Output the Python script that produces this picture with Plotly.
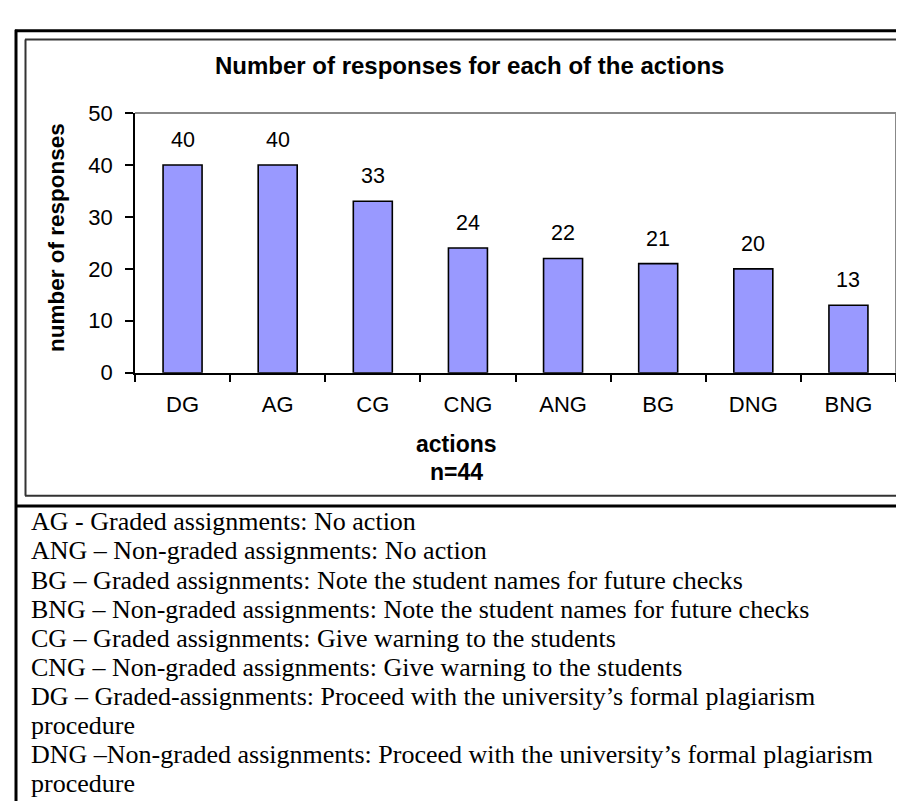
import plotly.graph_objects as go

# ---- data ----
categories = ["DG", "AG", "CG", "CNG", "ANG", "BG", "DNG", "BNG"]
responses = [40, 40, 33, 24, 22, 21, 20, 13]
y_ticks = [0, 10, 20, 30, 40, 50]
chart_title = "Number of responses for each of the actions"
x_title = "actions"
n_note = "n=44"
y_title = "number of responses"
legend_lines = [
    "AG - Graded assignments: No action",
    "ANG \u2013 Non-graded assignments: No action",
    "BG \u2013 Graded assignments: Note the student names for future checks",
    "BNG \u2013 Non-graded assignments: Note the student names for future checks",
    "CG \u2013 Graded assignments: Give warning to the students",
    "CNG \u2013 Non-graded assignments: Give warning to the students",
    "DG \u2013 Graded-assignments: Proceed with the university\u2019s formal plagiarism",
    "procedure",
    "DNG \u2013Non-graded assignments: Proceed with the university\u2019s formal plagiarism",
    "procedure",
]

W, H = 904, 805


def px(x):
    return x / W


def py(y):
    return 1 - y / H


SANS = "Liberation Sans, Arial, sans-serif"
SERIF = "Liberation Serif, Times New Roman, serif"

fig = go.Figure()
fig.add_trace(go.Bar(
    x=categories, y=responses,
    marker=dict(color="#9999FF", line=dict(color="black", width=1.6)),
    hoverinfo="x+y",
))

annotations = []
# value labels
for c, v in zip(categories, responses):
    annotations.append(dict(x=c, y=v, xref="x", yref="y", text=str(v), showarrow=False,
                            yanchor="middle", yshift=25,
                            font=dict(family=SANS, size=21.5, color="black")))
# title
annotations.append(dict(x=px(461), y=py(47), xref="paper", yref="paper", text="<b>" + chart_title + "</b>",
                        showarrow=False, xanchor="center", yanchor="middle",
                        font=dict(family=SANS, size=24, color="black")))
# axis titles
annotations.append(dict(x=px(448), y=py(438), xref="paper", yref="paper", text="<b>" + x_title + "</b>",
                        showarrow=False, xanchor="center", yanchor="middle",
                        font=dict(family=SANS, size=23, color="black")))
annotations.append(dict(x=px(448), y=py(467), xref="paper", yref="paper", text="<b>" + n_note + "</b>",
                        showarrow=False, xanchor="center", yanchor="middle",
                        font=dict(family=SANS, size=23, color="black")))
annotations.append(dict(x=px(48), y=py(225), xref="paper", yref="paper", text="<b>" + y_title + "</b>",
                        showarrow=False, xanchor="center", yanchor="middle", textangle=-90,
                        font=dict(family=SANS, size=22.5, color="black")))
# legend text lines
for i, line in enumerate(legend_lines):
    base = 527 + 30 * i
    annotations.append(dict(x=px(21), y=py(base - 9), xref="paper", yref="paper", text=line,
                            showarrow=False, xanchor="left", yanchor="middle",
                            font=dict(family=SERIF, size=26, color="black")))

shapes = [
    # outer frame (black, thick)
    dict(type="line", xref="paper", yref="paper", x0=px(8), x1=px(8), y0=py(10), y1=py(806),
         line=dict(color="black", width=3)),
    dict(type="line", xref="paper", yref="paper", x0=px(7), x1=1.02, y0=py(11), y1=py(11),
         line=dict(color="black", width=3)),
    dict(type="line", xref="paper", yref="paper", x0=px(7), x1=1.02, y0=py(501.5), y1=py(501.5),
         line=dict(color="black", width=3)),
    # chart area border (dark gray)
    dict(type="line", xref="paper", yref="paper", x0=px(17.5), x1=px(17.5), y0=py(20), y1=py(491),
         line=dict(color="#333333", width=2)),
    dict(type="line", xref="paper", yref="paper", x0=px(17), x1=1.02, y0=py(20), y1=py(20),
         line=dict(color="#333333", width=2)),
    dict(type="line", xref="paper", yref="paper", x0=px(17), x1=1.02, y0=py(491), y1=py(491),
         line=dict(color="#333333", width=2)),
    # plot area top/right border (gray)
    dict(type="line", xref="paper", yref="paper", x0=px(127), x1=px(888), y0=py(96), y1=py(96),
         line=dict(color="#888888", width=2)),
    dict(type="line", xref="paper", yref="paper", x0=px(888), x1=px(888), y0=py(96), y1=py(364),
         line=dict(color="#888888", width=2)),
]

fig.update_layout(
    width=W, height=H,
    margin=dict(l=0, r=0, t=0, b=0),
    paper_bgcolor="white", plot_bgcolor="white",
    showlegend=False,
    bargap=0.59,
    font=dict(family=SANS, color="black"),
    annotations=annotations,
    shapes=shapes,
    xaxis=dict(
        domain=[px(127), px(888)],
        type="category",
        showline=True, linecolor="black", linewidth=1.5,
        ticks="outside", ticklen=8, tickcolor="black", tickwidth=1.5,
        tickson="boundaries",
        showgrid=False, zeroline=False,
        tickfont=dict(family=SANS, size=22, color="black"),
        ticklabelstandoff=11,
    ),
    yaxis=dict(
        domain=[py(364), py(96)],
        range=[0, 50],
        tickvals=y_ticks,
        showline=True, linecolor="black", linewidth=1.5,
        ticks="outside", ticklen=8, tickcolor="black", tickwidth=1.5,
        showgrid=False, zeroline=False,
        tickfont=dict(family=SANS, size=22, color="black"),
        ticklabelstandoff=8,
    ),
)

fig.write_html("out.html")
